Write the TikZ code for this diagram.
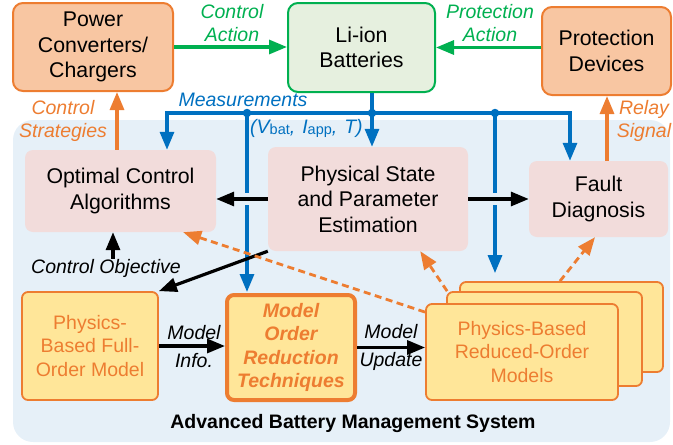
\documentclass[tikz,border=0pt]{standalone}
\usepackage{fontspec}
\setmainfont{Liberation Sans}
\usetikzlibrary{arrows.meta,calc}

\definecolor{bmsbg}{HTML}{E6F0F8}
\definecolor{orgline}{HTML}{ED7D31}
\definecolor{orgfill}{HTML}{F8C6A2}
\definecolor{grnline}{HTML}{00B050}
\definecolor{grnfill}{HTML}{E6F0DF}
\definecolor{bluline}{HTML}{0070C0}
\definecolor{pinkfill}{HTML}{F2DCDB}
\definecolor{yelfill}{HTML}{FFE699}

\tikzset{
  bigtext/.style={font=\fontsize{21.3}{25.5}\selectfont},
  smalltext/.style={font=\fontsize{19.5}{23.5}\selectfont},
  topbox/.style={draw=orgline, fill=orgfill, line width=2pt, rounded corners=10pt,
    align=center, inner sep=0pt, bigtext},
  batbox/.style={topbox, draw=grnline, fill=grnfill},
  pinkbox/.style={fill=pinkfill, rounded corners=8pt, align=center, inner sep=0pt, bigtext},
  yelbox/.style={draw=orgline, fill=yelfill, line width=1.8pt, rounded corners=6pt,
    text=orgline, align=center, inner sep=0pt, smalltext},
  morbox/.style={yelbox, line width=4pt, rounded corners=7pt,
    font=\bfseries\itshape\fontsize{19.5}{23.5}\selectfont},
  lab/.style={font=\itshape\fontsize{19.5}{23.5}\selectfont, align=center, inner sep=0pt},
  headtip/.tip={Triangle[length=18pt,width=14pt]},
  kflow/.style={line width=3.2pt, -headtip},
  bflow/.style={kflow, draw=bluline},
  gflow/.style={kflow, draw=grnline},
  oflow/.style={kflow, draw=orgline},
  dflow/.style={line width=2.8pt, draw=orgline, dash pattern=on 7pt off 4.5pt,
    -{Triangle[length=18pt,width=14pt]}},
  gapline/.style={preaction={draw=bmsbg, line width=12pt, -}},
  jdot/.style={circle, fill=bluline, inner sep=0pt, minimum size=8.5pt}
}

\begin{document}
\begin{tikzpicture}[x=1pt, y=-1pt]
\useasboundingbox (0,0) rectangle (673,445);

% system panel
\node[fill=bmsbg, rounded corners=20pt, minimum width=657pt, minimum height=322pt,
  inner sep=0pt] (bms) at (341.5,281) {};
\node[font=\bfseries\fontsize{19.5}{23.5}\selectfont, inner sep=0pt] (bmstitle) at (353,423)
  {Advanced Battery Management System};

% top row
\node[topbox, minimum width=160pt, minimum height=88pt] (pow) at (93,47) {Power\\Converters/\\Chargers};
\node[batbox, minimum width=147pt, minimum height=89pt] (li) at (361.5,47.5) {Li-ion\\Batteries};
\node[topbox, minimum width=129pt, minimum height=88pt] (prot) at (606.5,51) {Protection\\Devices};

% algorithms
\node[pinkbox, minimum width=191pt, minimum height=82pt] (opt) at (120.5,191) {Optimal Control\\Algorithms};
\node[pinkbox, minimum width=200pt, minimum height=104pt] (phys) at (368,199) {Physical State\\and Parameter\\Estimation};
\node[pinkbox, minimum width=139pt, minimum height=76pt] (fault) at (598.5,199) {Fault\\Diagnosis};

% models
\node[yelbox, minimum width=136pt, minimum height=108pt] (full) at (90,346) {Physics-\\Based Full-\\Order Model};
\node[morbox, minimum width=128pt, minimum height=105pt] (mor) at (291,347.5) {Model\\Order\\Reduction\\Techniques};
\node[yelbox, minimum width=203pt, minimum height=90pt] (romc) at (561.5,327) {};
\node[yelbox, minimum width=195pt, minimum height=94pt] (romb) at (544.5,339) {};
\node[yelbox, minimum width=192pt, minimum height=96pt] (roma) at (522,352) {Physics-Based\\Reduced-Order\\Models};

% labels
\node[lab, text=grnline] (lca) at (232,23) {Control\\Action};
\node[lab, text=grnline] (lpa) at (490,23) {Protection\\Action};
\node[lab, text=orgline] (lcs) at (63,121) {Control\\Strategies};
\node[lab, text=orgline] (lrs) at (644,121) {Relay\\Signal};
\node[lab, text=bluline] (lmeas) at (243,100) {Measurements};
\node[lab, text=bluline, anchor=west] (lvars) at (250,128)
  {(V\raisebox{-1pt}{\upshape\fontsize{14.5}{14.5}\selectfont bat},\hspace{7pt}I\raisebox{-1pt}{\upshape\fontsize{14.5}{14.5}\selectfont app},\hspace{7pt}T)};
\node[lab] (lobj) at (106,268) {Control Objective};
\node[lab] (lmi) at (194,347) {Model\\[4.5pt]Info.};
\node[lab] (lmu) at (391,347.5) {Model\\[5pt]Update};

% measurement bus
\coordinate (mL) at (167,113);
\coordinate (mA) at (247,113);
\coordinate (mB) at (372,113);
\coordinate (mC) at (495,113);
\coordinate (mR) at (570,113);
\draw[bflow, headtip-headtip] (opt.north -| mL) -- (mL) -- (mR) -- (fault.north -| mR);
\draw[line width=3.2pt, bluline] (li.south -| mB) -- (mB);
\draw[bflow] (mB) -- (phys.north -| mB);
\draw[bflow, shorten >=1pt] (mA) -- (mor.north -| mA);
\draw[bflow, shorten >=8pt] (mC) -- (romc.north -| mC);
\node[jdot] (dA) at (mA) {};
\node[jdot] (dB) at (mB) {};
\node[jdot] (dC) at (mC) {};

% control actions
\draw[gflow] (pow.east) -- (pow.east -| li.west);
\draw[gflow] (prot.west |- li.east) -- (li.east);
\coordinate (csx) at (117,0);
\coordinate (rsx) at (607,0);
\draw[oflow] (opt.north -| csx) -- (pow.south -| csx);
\draw[oflow] (fault.north -| rsx) -- (prot.south -| rsx);

% estimation outputs
\draw[kflow, gapline] (phys.west) -- (phys.west -| opt.east);
\draw[kflow, gapline] (phys.east) -- (phys.east -| fault.west);
\draw[kflow] (phys.south west) -- (full.north east);
\coordinate (objtop) at ([xshift=7pt]lobj.north);
\draw[kflow] (objtop) -- (objtop |- opt.south);

% model chain
\draw[kflow] (full.east) -- (full.east -| mor.west);
\draw[kflow] (mor.east) -- (mor.east -| roma.west);

% reduced-order model feeds
\coordinate (fdx) at (560,0);
\draw[dflow] ([yshift=-9pt]roma.north west) -- ([xshift=-33pt]opt.south east);
\draw[dflow] ([xshift=1pt]romb.north west) -- ([xshift=-48pt]phys.south east);
\draw[dflow] (romc.north -| fdx) -- ([xshift=-3.5pt]fault.south);
\end{tikzpicture}
\end{document}
